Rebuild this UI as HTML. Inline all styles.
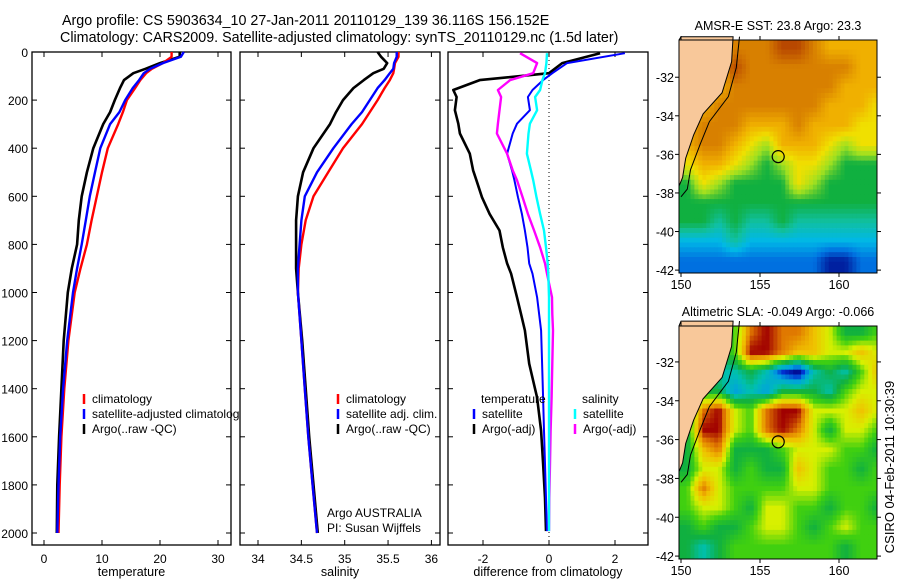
<!DOCTYPE html>
<html><head><meta charset="utf-8">
<style>
html,body{margin:0;padding:0;background:#fff;}
svg{display:block;font-family:"Liberation Sans",sans-serif;}
</style></head>
<body>
<svg id="fig" width="900" height="580" viewBox="0 0 900 580" xmlns="http://www.w3.org/2000/svg">
<text x="62" y="25" font-size="14.3">Argo profile: CS 5903634_10 27-Jan-2011 20110129_139 36.116S 156.152E</text>
<text x="60" y="42" font-size="14.3">Climatology: CARS2009. Satellite-adjusted climatology: synTS_20110129.nc (1.5d later)</text>
<g id="plots"></g>
<text transform="translate(894,467) rotate(-90)" text-anchor="middle" font-size="13">CSIRO 04-Feb-2011 10:30:39</text>
</svg>
<script>
// ---- data ----
const depthTicks = [0,200,400,600,800,1000,1200,1400,1600,1800,2000];
const tempTicks = [0,10,20,30];
const salTicks = [34,34.5,35,35.5,36];
const salTickLabels = ["34","34.5","35","35.5","36"];
const diffTicks = [-2,0,2];

const profDepth = [0,20,46,70,88,117,150,200,250,300,400,500,600,700,800,900,1000,1200,1400,1600,1800,2000];
const tempClim  = [22.0,22.0,20.5,18.6,17.6,16.6,15.7,14.3,13.6,12.8,11.0,10.0,9.1,8.2,7.4,6.3,5.3,4.2,3.5,3.0,2.7,2.5];
const tempSat   = [24.1,23.6,20.5,18.3,17.2,16.4,15.3,14.0,13.0,11.4,9.7,8.8,7.9,7.2,6.5,5.7,5.0,4.0,3.3,2.8,2.5,2.3];
const tempArgo  = [23.4,23.4,20.0,17.5,15.4,13.8,13.1,12.2,11.4,10.2,8.5,7.4,6.5,6.0,5.7,4.8,4.1,3.4,3.0,2.6,2.3,2.2];
const salClim   = [35.62,35.62,35.58,35.57,35.56,35.52,35.46,35.38,35.29,35.20,34.98,34.81,34.64,34.55,34.50,34.47,34.46,34.50,34.54,34.58,34.63,34.68];
const salSat    = [35.60,35.60,35.57,35.56,35.52,35.46,35.38,35.29,35.20,35.08,34.87,34.68,34.54,34.50,34.48,34.46,34.46,34.50,34.54,34.58,34.63,34.68];
const salArgo   = [35.38,35.42,35.49,35.45,35.33,35.22,35.10,34.98,34.90,34.83,34.64,34.52,34.46,34.44,34.44,34.44,34.46,34.51,34.55,34.59,34.64,34.69];

const diffDepth = [5,46,88,117,158,187,242,298,339,423,492,533,604,673,742,812,879,922,1020,1089,1158,1296,1437,1575,1712,1854,1992];
const dTempArgo = [1.55,0.4,0.0,-2.1,-2.9,-2.8,-2.85,-2.75,-2.7,-2.4,-2.3,-2.2,-2.03,-1.8,-1.5,-1.4,-1.27,-1.15,-0.97,-0.85,-0.73,-0.6,-0.36,-0.24,-0.18,-0.12,-0.09];
const dTempSat  = [2.3,0.55,0.1,-0.18,-0.5,-0.64,-0.58,-0.97,-1.1,-1.27,-1.12,-1.05,-0.94,-0.82,-0.73,-0.65,-0.6,-0.5,-0.36,-0.3,-0.24,-0.21,-0.18,-0.15,-0.12,-0.09,-0.06];
const dSalArgo  = [-0.88,-0.36,-0.48,-1.18,-1.55,-1.45,-1.5,-1.55,-1.58,-1.27,-1.1,-0.97,-0.8,-0.64,-0.45,-0.27,-0.12,-0.06,0.09,0.1,0.12,0.1,0.08,0.05,0.03,0.01,0.0];
const dSalSat   = [-0.06,-0.08,-0.12,-0.2,-0.27,-0.42,-0.36,-0.58,-0.62,-0.67,-0.55,-0.48,-0.38,-0.27,-0.15,-0.09,-0.04,-0.02,0,0,0,0,0,0,0,0,0];

const lonTicks = [150,155,160];
const latTicks = [-32,-34,-36,-38,-40,-42];
const sstGrid = [
"LLL888998777 7",
"LL79888888877",
"LL78888888777",
"L788888887776",
"L888777877766",
"7887657776566",
"6776545665444",
"4654444654444",
"4444444444444",
"4434334333333",
"2223222222222",
"1111111110011"];
const slaGrid = [
"LLL5898876445",
"LL45998776676",
"LL33431034357",
"L442324443566",
"L896589966676",
"4996589864665",
"4784445666554",
"4664544765545",
"5865555665555",
"5665466554554",
"4544566545655",
"4345555555455"];
const argoLon = 156.152, argoLat = -36.116;

// ---- helpers ----
const NS="http://www.w3.org/2000/svg";
const root=document.getElementById('plots');
function el(tag,attrs,parent){const e=document.createElementNS(NS,tag);for(const k in attrs)e.setAttribute(k,attrs[k]);(parent||root).appendChild(e);return e;}
const Y0=52, YB=545, DPX=0.2405;
const yD = d => Y0 + d*DPX;

function panel(name,x0,x1,xs,ticks,labels,xlabel,showY){
  const g=el('g',{});
  
  
  const r=el('rect',{x:x0,y:Y0,width:x1-x0,height:YB-Y0,fill:'#fff',stroke:'#000','stroke-width':1.3},g);
  
  
  ticks.forEach((t,i)=>{
    const x=xs(t);
    el('line',{x1:x,x2:x,y1:YB,y2:YB-5,stroke:'#000'},g);
    el('line',{x1:x,x2:x,y1:Y0,y2:Y0+5,stroke:'#000'},g);
    const tx=el('text',{x:x,y:YB+18,'font-size':12,'text-anchor':'middle'},g);
    tx.textContent=labels[i];
    
    
  });
  depthTicks.forEach(d=>{
    const y=yD(d);
    el('line',{x1:x0,x2:x0+5,y1:y,y2:y,stroke:'#000'},g);
    el('line',{x1:x1,x2:x1-5,y1:y,y2:y,stroke:'#000'},g);
    if(showY){
      const tx=el('text',{x:x0-4,y:y+5,'font-size':12,'text-anchor':'end'},g);
      tx.textContent=d;
      
      
    }
  });
  const xl=el('text',{x:(x0+x1)/2,y:YB+31,'font-size':12.5,'text-anchor':'middle'},g);
  xl.textContent=xlabel;
  
  
  return g;
}
function series(g,name,depths,vals,xs,color,w){
  let d='';
  vals.forEach((v,i)=>{const x=xs(v),y=yD(depths[i]);d+=(i?'L':'M')+x.toFixed(1)+','+y.toFixed(1);});
  const p=el('path',{d:d,fill:'none',stroke:color,'stroke-width':w||2.4,'stroke-linejoin':'round'},g);
  
  
}
function legend(g,x,y,color,label,name){
  const m=el('line',{x1:x,x2:x,y1:y-9,y2:y+1,stroke:color,'stroke-width':2.5},g);
  
  
  const t=el('text',{x:x+8,y:y,'font-size':12},g);
  t.textContent=label;
  
  
}
function txt(g,x,y,s,name,anchor){
  const t=el('text',{x:x,y:y,'font-size':12,'text-anchor':anchor||'start'},g);
  t.textContent=s;
  
  
}

// ---- temperature panel ----
const xT = v => 44 + 5.8*v;
const gT = panel('temperature-panel',32,231,xT,tempTicks,tempTicks.map(String),'temperature',true);
series(gT,'temp-argo-line',profDepth,tempArgo,xT,'#000',2.6);
series(gT,'temp-climatology-line',profDepth,tempClim,xT,'#f00');
series(gT,'temp-satellite-line',profDepth,tempSat,xT,'#00f');
legend(gT,84,403,'#f00','climatology','legend-climatology');
legend(gT,84,418,'#00f','satellite-adjusted climatology','legend-satellite-adjusted');
legend(gT,84,433,'#000','Argo(..raw -QC)','legend-argo');

// ---- salinity panel ----
const xS = v => 258 + 86.7*(v-34);
const gS = panel('salinity-panel',240,440,xS,salTicks,salTickLabels,'salinity',false);
series(gS,'sal-argo-line',profDepth,salArgo,xS,'#000',2.6);
series(gS,'sal-climatology-line',profDepth,salClim,xS,'#f00');
series(gS,'sal-satellite-line',profDepth,salSat,xS,'#00f');
legend(gS,338,403,'#f00','climatology','legend-sal-climatology');
legend(gS,338,418,'#00f','satellite adj. clim.','legend-sal-satellite');
legend(gS,338,433,'#000','Argo(..raw -QC)','legend-sal-argo');
txt(gS,327,517,'Argo AUSTRALIA','argo-australia-note');
txt(gS,327,532,'PI: Susan Wijffels','pi-note');

// ---- difference panel ----
const xDf = v => 549 + 33*v;
const gD = panel('difference-panel',448,648,xDf,diffTicks,diffTicks.map(String),'difference from climatology',false);
const zl=el('line',{x1:xDf(0),x2:xDf(0),y1:Y0,y2:YB,stroke:'#000','stroke-dasharray':'1,3'},gD);


series(gD,'diff-temp-argo-line',diffDepth,dTempArgo,xDf,'#000',2.6);
series(gD,'diff-temp-satellite-line',diffDepth,dTempSat,xDf,'#00f',2);
series(gD,'diff-sal-argo-line',diffDepth,dSalArgo,xDf,'#f0f',2.4);
series(gD,'diff-sal-satellite-line',diffDepth,dSalSat,xDf,'#0ff',2.4);
txt(gD,481,403,'temperature','legend-temperature-heading');
txt(gD,582,403,'salinity','legend-salinity-heading');
legend(gD,474,418,'#00f','satellite','legend-temp-satellite');
legend(gD,474,433,'#000','Argo(-adj)','legend-temp-argo');
legend(gD,575,418,'#0ff','satellite','legend-sal-satellite-diff');
legend(gD,575,433,'#f0f','Argo(-adj)','legend-sal-argo-diff');

// ---- maps ----
const cmapSST=['#0020a0','#0070e0','#00b8e8','#10c0a0','#10b040','#a0e020','#f0e000','#f0b000','#d88000','#b84800'];
const cmapSLA=['#000080','#0030d0','#00a0e0','#00c0b0','#10b040','#40d010','#d8f000','#f0c000','#e07800','#a00000'];
function hex2rgb(h){return [1,3,5].map(i=>parseInt(h.substr(i,2),16));}
function colorAt(cols,v){
  v=Math.max(0,Math.min(cols.length-1,v));
  const i=Math.min(cols.length-2,Math.floor(v)), f=v-i;
  const a=hex2rgb(cols[i]), b=hex2rgb(cols[i+1]);
  return 'rgb('+a.map((x,k)=>Math.round(x+(b[k]-x)*f)).join(',')+')';
}
function gridVal(grid,fill,r,c){
  r=Math.max(0,Math.min(grid.length-1,r));
  const chars=grid[r].replace(/ /g,'');
  c=Math.max(0,Math.min(12,c));
  const ch=chars[c];
  return (!ch||ch==='L')?fill:+ch;
}
function map(name,title,grid,cols,fill,x0,x1,top,bot,latTop){
  const g=el('g',{});
  
  
  const lonX=v=>681+(v-150)*15.8;
  const latS=(bot-top)/(latTop+42.15), latY=v=>top+(latTop-v)*latS;
  const step=0.25;
  for(let lat=latTop; lat>-42.15; lat-=step){
    for(let lon=149.85; lon<162.5; lon+=step){
      const cl=lon+step/2, ct=lat-step/2;
      const gx=cl-150.4, gy=-30.5-ct;
      const c0=Math.floor(gx), r0=Math.floor(gy), fx=gx-c0, fy=gy-r0;
      const v=(1-fx)*(1-fy)*gridVal(grid,fill,r0,c0)+fx*(1-fy)*gridVal(grid,fill,r0,c0+1)
             +(1-fx)*fy*gridVal(grid,fill,r0+1,c0)+fx*fy*gridVal(grid,fill,r0+1,c0+1);
      const lx=Math.max(x0,lonX(lon)), rx=Math.min(x1,lonX(lon+step)+0.4);
      const ty=Math.max(top,latY(lat)), by=Math.min(bot,latY(lat-step)+0.4);
      if(rx<=lx||by<=ty)continue;
      const cell=el('rect',{x:lx.toFixed(1),y:ty.toFixed(1),width:(rx-lx).toFixed(1),height:(by-ty).toFixed(1),fill:colorAt(cols,v)},g);
      
      
    }
  }
  // land
  const land=[[150,-29.9],[153.3,-29.9],[153.2,-31.2],[152.6,-32.8],[151.4,-33.9],[150.8,-35],[150.3,-36.2],[150.1,-37.2],[149.9,-37.6]];
  const pts=land.map(p=>lonX(p[0]).toFixed(1)+','+latY(p[1]).toFixed(1)).join(' ')+' '+x0+','+latY(-37.6)+' '+x0+','+top;
  const lp=el('polygon',{points:pts,fill:'#f8c89a',stroke:'#000','stroke-width':1},g);
  
  
  const contour=[[153.7,-29.9],[153.5,-31.5],[153.0,-33],[151.8,-34.3],[151.2,-35.5],[150.6,-36.8],[150.4,-37.8],[150.0,-38.2]];
  const cp=el('polyline',{points:contour.map(p=>lonX(p[0]).toFixed(1)+','+latY(p[1]).toFixed(1)).join(' '),fill:'none',stroke:'#000','stroke-width':1},g);
  
  
  el('rect',{x:x0,y:top,width:x1-x0,height:bot-top,fill:'none',stroke:'#000','stroke-width':1},g);
  const ci=el('circle',{cx:lonX(argoLon),cy:latY(argoLat),r:6,fill:'none',stroke:'#000','stroke-width':1.2},g);
  
  
  lonTicks.forEach(v=>{
    const x=lonX(v);
    el('line',{x1:x,x2:x,y1:bot,y2:bot+4,stroke:'#000'},g);
    el('line',{x1:x,x2:x,y1:top,y2:top-4,stroke:'#000'},g);
    const t=el('text',{x:x,y:bot+16,'font-size':12.5,'text-anchor':'middle'},g);
    t.textContent=v;
    
    
  });
  latTicks.forEach(v=>{
    const y=latY(v);
    el('line',{x1:x0,x2:x0-4,y1:y,y2:y,stroke:'#000'},g);
    el('line',{x1:x1,x2:x1+4,y1:y,y2:y,stroke:'#000'},g);
    const t=el('text',{x:x0-5,y:y+5,'font-size':12.5,'text-anchor':'end'},g);
    t.textContent=v;
    
    
  });
  const tt=el('text',{x:(x0+x1)/2,y:top-10,'font-size':12.5,'text-anchor':'middle'},g);
  tt.textContent=title;
  
  
}
map('sst-map','AMSR-E SST: 23.8 Argo: 23.3',sstGrid,cmapSST,7,679,877,40,273,-30.07);
map('sla-map','Altimetric SLA: -0.049 Argo: -0.066',slaGrid,cmapSLA,4,679,877,326,559,-30.15);
</script>
</body></html>
